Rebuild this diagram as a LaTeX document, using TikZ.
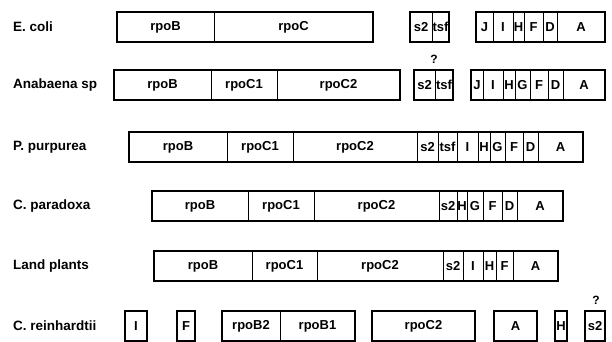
\documentclass[tikz,border=0pt]{standalone}
\usepackage{fontspec}
\setmainfont{Liberation Sans}
\tikzset{
  gene/.style={draw, line width=0.9pt, minimum height=30pt, inner sep=0pt, outer sep=0pt,
    font=\bfseries\fontsize{13}{15}\selectfont},
  grp/.style={line width=1.7pt},
  org/.style={anchor=west, inner sep=0pt, font=\bfseries\fontsize{13.5}{15}\selectfont},
  qmark/.style={inner sep=0pt, font=\bfseries\fontsize{12}{14}\selectfont}
}

\begin{document}
\begin{tikzpicture}[x=1pt,y=-1pt]
  \useasboundingbox (0,0) rectangle (612,342);
  % E. coli
  \node[org] (ecoli) at (13,27) {E. coli};
  \foreach \g/\a/\b in {rpoB/117/214, rpoC/214/373, s2/410/432, tsf/432/449, J/476/493,
      I/493/513, H/513/524, F/524/543, D/543/557, A/557/605}
    \node[gene, minimum width={\b-\a}] (ec-\g) at ({(\a+\b)/2},27) {\g};
  \draw[grp] (ec-rpoB.north west) rectangle (ec-rpoC.south east);
  \draw[grp] (ec-s2.north west) rectangle (ec-tsf.south east);
  \draw[grp] (ec-J.north west) rectangle (ec-A.south east);
  % Anabaena
  \node[org] (anab) at (13,85) {Anabaena sp};
  \foreach \g/\a/\b in {rpoB/114/211, rpoC1/211/277, rpoC2/277/400, s2/414/435, tsf/435/453,
      J/471/483, I/483/503, H/503/515, G/515/530, F/530/548, D/548/563, A/563/605}
    \node[gene, minimum width={\b-\a}] (an-\g) at ({(\a+\b)/2},85) {\g};
  \draw[grp] (an-rpoB.north west) rectangle (an-rpoC2.south east);
  \draw[grp] (an-s2.north west) rectangle (an-tsf.south east);
  \draw[grp] (an-J.north west) rectangle (an-A.south east);
  \node[qmark] (an-q) at (434,59) {?};
  % P. purpurea
  \node[org] (ppur) at (13,147) {P. purpurea};
  \foreach \g/\a/\b in {rpoB/129/227, rpoC1/227/293, rpoC2/293/417, s2/417/438, tsf/438/457,
      I/457/478, H/478/490, G/490/505, F/505/523, D/523/538, A/538/583}
    \node[gene, minimum width={\b-\a}] (pp-\g) at ({(\a+\b)/2},147) {\g};
  \draw[grp] (pp-rpoB.north west) rectangle (pp-A.south east);
  % C. paradoxa
  \node[org] (cpar) at (13,206) {C. paradoxa};
  \foreach \g/\a/\b in {rpoB/152/248, rpoC1/248/314, rpoC2/314/439, s2/439/457,
      H/457/467, G/467/483, F/483/502, D/502/517, A/517/563}
    \node[gene, minimum width={\b-\a}] (cp-\g) at ({(\a+\b)/2},206) {\g};
  \draw[grp] (cp-rpoB.north west) rectangle (cp-A.south east);
  % Land plants
  \node[org] (land) at (13,266) {Land plants};
  \foreach \g/\a/\b in {rpoB/154/252, rpoC1/252/317, rpoC2/317/443, s2/443/463,
      I/463/483, H/483/496, F/496/513, A/513/558}
    \node[gene, minimum width={\b-\a}] (lp-\g) at ({(\a+\b)/2},266) {\g};
  \draw[grp] (lp-rpoB.north west) rectangle (lp-A.south east);
  % C. reinhardtii
  \node[org] (crei) at (13,326) {C. reinhardtii};
  \foreach \g/\a/\b in {I/125/147, F/177/195, rpoB2/222/280, rpoB1/280/355, rpoC2/372/475,
      A/494/537, H/555/567, s2/585/605}
    \node[gene, minimum width={\b-\a}] (cr-\g) at ({(\a+\b)/2},326) {\g};
  \foreach \g in {I,F,rpoC2,A,H,s2}
    \draw[grp] (cr-\g.north west) rectangle (cr-\g.south east);
  \draw[grp] (cr-rpoB2.north west) rectangle (cr-rpoB1.south east);
  \node[qmark] (cr-q) at (596,300) {?};
\end{tikzpicture}
\end{document}
